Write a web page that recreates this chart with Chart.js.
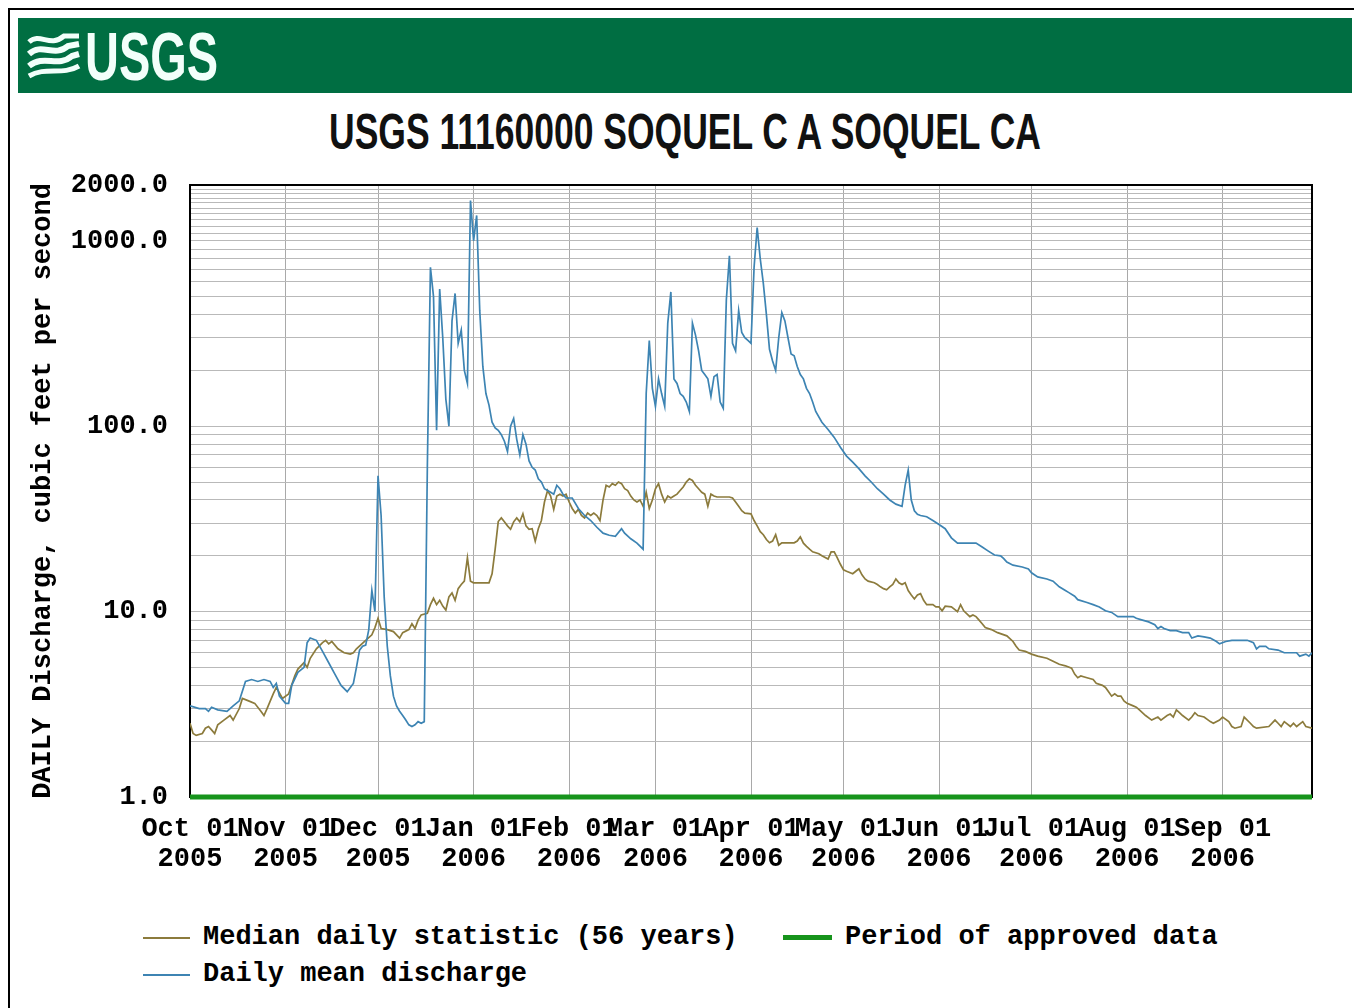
<!DOCTYPE html>
<html>
<head>
<meta charset="utf-8">
<script src="https://cdn.jsdelivr.net/npm/chart.js@4.4.1/dist/chart.umd.min.js"></script>
<style>
  html, body { margin: 0; padding: 0; background: #fff; }
  body { width: 1354px; height: 1008px; position: relative; overflow: hidden; }
  .frame { position: absolute; left: 8px; top: 8px; right: -4px; bottom: -4px; border-left: 2px solid #000; border-top: 2px solid #000; }
  .banner { position: absolute; left: 18px; top: 18px; width: 1334px; height: 75px; background: #006e42; }
  .banner svg, .title { position: absolute; left: 0; top: 0; }
  #chart { position: absolute; left: 0; top: 160px; }
  .legend { position: absolute; font: bold 27px "Liberation Mono", "DejaVu Sans Mono", monospace; color: #000; white-space: nowrap; }
  .legend .sw { position: absolute; left: -60px; top: 50%; width: 47px; }
</style>
</head>
<body>
<div class="frame"></div>
<div class="banner">
  <svg width="260" height="75" viewBox="0 0 260 75">
    <g fill="none" stroke="#f2fffa" stroke-linecap="butt">
      <path d="M11 24 C22 14, 32 30, 46 18 L61 18" stroke-width="5"/>
      <path d="M11 36 C24 24, 36 40, 50 28 L61 26" stroke-width="6"/>
      <path d="M11 48 C26 36, 40 50, 54 38 L61 36" stroke-width="6"/>
      <path d="M11 58 C28 48, 44 58, 61 48" stroke-width="5"/>
    </g>
    <text x="67" y="62" textLength="133" lengthAdjust="spacingAndGlyphs"
          font-family="Liberation Sans Narrow, Liberation Sans, Arial" font-weight="bold" font-size="68" fill="#f2fffa">USGS</text>
  </svg>
</div>
<svg class="title" width="1354" height="160">
  <text x="685" y="149" text-anchor="middle" textLength="712" lengthAdjust="spacingAndGlyphs"
        font-family="Liberation Sans Narrow, Liberation Sans, Arial" font-weight="bold" font-size="50" fill="#111">USGS 11160000 SOQUEL C A SOQUEL CA</text>
</svg>
<canvas id="chart" width="1354" height="720"></canvas>
<div class="legend" style="left:203px; top:922px;"><span class="sw" style="height:2px; background:#8c7b3c;"></span>Median daily statistic (56 years)</div>
<div class="legend" style="left:845px; top:922px;"><span class="sw" style="height:5px; margin-top:-2px; left:-62px; width:49px; background:#17941c;"></span>Period of approved data</div>
<div class="legend" style="left:203px; top:959px;"><span class="sw" style="height:2px; background:#3d84b3;"></span>Daily mean discharge</div>
<script>
// day 0 = 01 Oct 2005, day 364 = 30 Sep 2006
const monthDays = [0, 31, 61, 92, 123, 151, 182, 212, 243, 273, 304, 335];
const monthLabels = [
  ['Oct 01', '2005'], ['Nov 01', '2005'], ['Dec 01', '2005'], ['Jan 01', '2006'],
  ['Feb 01', '2006'], ['Mar 01', '2006'], ['Apr 01', '2006'], ['May 01', '2006'],
  ['Jun 01', '2006'], ['Jul 01', '2006'], ['Aug 01', '2006'], ['Sep 01', '2006']
];
const yTicks = [1, 2, 3, 4, 5, 6, 7, 8, 9, 10, 20, 30, 40, 50, 60, 70, 80, 90,
  100, 200, 300, 400, 500, 600, 700, 800, 900,
  1000, 1100, 1200, 1300, 1400, 1500, 1600, 1700, 1800, 1900, 2000];
const yLabelled = [1, 10, 100, 1000, 2000];

// median daily statistic (56 years), cfs
const medianDays = [0, 1, 2, 4, 5, 6, 7, 8, 9, 11, 13, 14, 16, 17, 19, 21, 23, 24, 25, 27, 28, 30, 32, 34, 35, 37, 38, 39, 41, 43, 44, 45, 46, 48, 50, 52, 53, 54, 57, 59,
  60, 61, 62, 64, 66, 68, 69, 71, 72, 73, 74, 75, 77, 78, 79, 80, 81, 82, 83, 84, 85, 86, 87, 88, 89, 90, 91, 92, 97, 98, 99,
  100, 101, 102, 103, 104, 105, 106, 107, 108, 109, 110, 111, 112, 113, 114, 115, 116, 117, 118, 119, 120, 121, 122, 123, 124, 125, 126, 127, 128, 129,
  130, 131, 132, 133, 134, 135, 136, 137, 138, 139, 140, 141, 142, 143, 144, 145, 146, 147, 148, 149, 150, 151, 152, 153, 154, 155, 156, 157, 158, 159,
  160, 161, 162, 163, 164, 165, 166, 167, 168, 169, 170, 171, 175, 176, 177, 178, 179, 180, 182, 183, 184, 185, 186, 187, 188, 189, 190, 191, 192, 196, 197, 198, 199,
  200, 201, 202, 204, 205, 207, 208, 209, 210, 211, 212, 213, 215, 216, 217, 218, 219, 220, 222, 223, 224, 225, 226, 227, 228, 229, 230, 231, 232, 233, 234, 235, 236, 237, 238, 239,
  241, 242, 243, 244, 245, 247, 249, 250, 251, 253, 254, 255, 256, 257, 258, 260, 262, 265, 267, 268, 269, 271, 273, 275, 278, 280, 282, 284, 286, 287, 288, 289, 291, 293, 294, 296, 297, 298, 299,
  300, 301, 302, 303, 304, 306, 307, 308, 310, 312, 314, 315, 317, 318, 319, 320, 321, 322, 324, 325, 326, 327, 329, 331, 332, 334, 335, 337, 338, 339,
  341, 342, 344, 345, 346, 350, 352, 353, 354, 355, 357, 358, 359, 361, 362, 364];
const medianFlow = [2.5, 2.2, 2.15, 2.2, 2.35, 2.4, 2.3, 2.2, 2.45, 2.6, 2.75, 2.6, 3.0, 3.4, 3.3, 3.2, 2.9, 2.75, 3.0, 3.6, 3.9, 3.4, 3.6, 4.5, 4.9, 5.3, 5.0, 5.6, 6.3, 6.8, 7.0, 6.7, 6.9, 6.3, 6.0, 5.9, 6.0, 6.3, 7.0, 7.5,
  8.2, 9.2, 8.1, 8.0, 7.8, 7.2, 7.7, 8.0, 8.6, 8.1, 9.0, 9.6, 9.8, 10.9, 11.8, 10.9, 11.5, 10.7, 10.2, 12.0, 12.6, 11.5, 13.3, 14.0, 14.6, 19.5, 14.6, 14.3, 14.3, 16, 21.7,
  30.6, 32, 30.5, 29, 27.8, 30.5, 32, 30.5, 33.7, 29, 27.8, 28, 24, 28, 31, 39, 45, 42, 35.6, 42, 43, 42, 43, 39, 36, 34, 35.6, 33, 32, 34,
  33, 34, 33, 31, 40, 48, 47, 49, 48, 50, 49, 46, 45, 42, 40, 39, 40, 37, 44, 36, 40, 46, 49, 43, 39, 42, 41, 42, 43, 45,
  47, 50, 52, 51, 48, 46, 44, 43, 37, 43, 42, 41.5, 41.5, 41, 39, 37, 35, 34, 33.7, 31, 29, 27, 26, 24.5, 23.5, 24, 26, 22.8, 23.5, 23.5, 24, 25.3, 23.4,
  22.5, 21.7, 21, 20.5, 20, 19.2, 21, 21, 19.5, 18, 16.8, 16.5, 16, 16.5, 17, 15.8, 15, 14.6, 14.3, 14, 13.6, 13.3, 13.1, 13.6, 14, 15, 14.3, 14, 14.3, 13, 12.3, 11.7, 12.3, 12.5, 11.5, 10.9,
  10.9, 10.6, 10.6, 10.1, 10.7, 10.6, 10.0, 10.9, 10.1, 9.4, 9.6, 9.4, 9.0, 8.6, 8.2, 8.0, 7.7, 7.4, 6.9, 6.5, 6.2, 6.1, 5.9, 5.75, 5.6, 5.4, 5.2, 5.1, 4.95, 4.6, 4.4, 4.5, 4.4, 4.3, 4.1, 4.0, 3.9, 3.7, 3.5,
  3.6, 3.5, 3.5, 3.3, 3.2, 3.1, 3.05, 2.95, 2.75, 2.6, 2.7, 2.6, 2.75, 2.8, 2.7, 2.95, 2.85, 2.75, 2.6, 2.7, 2.85, 2.75, 2.7, 2.55, 2.5, 2.6, 2.7, 2.55, 2.4, 2.35,
  2.4, 2.7, 2.5, 2.4, 2.35, 2.4, 2.6, 2.5, 2.4, 2.55, 2.4, 2.5, 2.4, 2.55, 2.4, 2.35];

// daily mean discharge, cfs
const meanDays = [0, 3, 5, 6, 7, 9, 12, 14, 16, 18, 20, 22, 24, 26, 27, 28, 29, 31, 32, 33, 35, 37, 38, 39, 41, 43, 45, 47, 49, 51, 53, 54, 55, 56, 57, 58, 59,
  60, 61, 62, 63, 64, 65, 66, 67, 68, 69, 70, 71, 72, 73, 74, 75, 76, 77, 78, 79, 80, 81, 82, 83, 84, 85, 86, 87, 88, 89,
  90, 91, 92, 93, 94, 95, 96, 97, 98, 99, 100, 101, 102, 103, 104, 105, 106, 107, 108, 109, 110, 111, 112, 113, 114, 115, 116, 117, 118, 119,
  120, 121, 122, 124, 126, 128, 130, 132, 134, 136, 138, 140, 141, 143, 145, 147, 148, 149, 150, 151, 152, 153, 154, 155, 156, 157, 158, 159,
  160, 161, 162, 163, 164, 165, 166, 167, 168, 169, 170, 171, 172, 173, 174, 175, 176, 177, 178, 179, 180, 181, 182, 183, 184, 185, 186, 187, 188, 189,
  190, 191, 192, 193, 194, 195, 196, 197, 198, 199, 200, 201, 202, 203, 205, 207, 209, 211, 213, 215, 217, 219, 221, 223, 225, 227, 229, 231, 232, 233, 234, 235, 236, 237, 239,
  241, 243, 245, 247, 249, 255, 257, 259, 261, 263, 264, 265, 267, 270, 272, 273, 275, 278, 280, 282, 284, 285, 287, 288, 291, 293, 295, 297, 299,
  301, 306, 307, 309, 311, 313, 314, 315, 316, 318, 320, 322, 324, 325, 327, 329, 331, 333, 334, 336, 338, 343, 345, 346, 347, 349, 350, 353, 355, 359, 360, 362, 363, 364];
const meanFlow = [3.1, 3.0, 3.0, 2.9, 3.05, 2.95, 2.9, 3.1, 3.3, 4.2, 4.3, 4.2, 4.3, 4.2, 3.9, 4.1, 3.5, 3.2, 3.2, 4.0, 4.7, 5.0, 6.8, 7.2, 7.0, 6.1, 5.3, 4.6, 4.0, 3.7, 4.1, 5.0, 6.2, 6.5, 6.6, 8.0, 13,
  10, 54, 33, 12, 6.5, 4.5, 3.5, 3.1, 2.9, 2.75, 2.6, 2.45, 2.4, 2.45, 2.55, 2.5, 2.55, 60, 720, 500, 95, 550, 300, 140, 100, 370, 520, 280, 330, 200,
  170, 1650, 1000, 1370, 420, 210, 150, 130, 105, 98, 95, 90, 83, 73, 100, 110, 85, 70, 90, 80, 65, 60, 58, 52, 50, 46, 45, 44, 43, 48,
  46, 43, 41, 41, 36, 33, 31, 28.5, 26.5, 25.8, 25.5, 28, 26.5, 24.7, 23.4, 21.7, 150, 290, 160, 128, 180, 150, 128, 360, 530, 180, 170, 150,
  145, 135, 120, 360, 310, 255, 200, 190, 180, 145, 185, 190, 135, 125, 480, 830, 280, 255, 420, 320, 300, 290, 280, 720, 1180, 800, 590, 400, 260, 225,
  200, 300, 410, 370, 300, 245, 240, 210, 190, 180, 160, 150, 135, 120, 105, 96, 87, 77, 69, 64, 59, 54, 50, 46, 43, 40, 38, 37, 48, 58, 40, 35, 33.5, 33, 32.5,
  31, 29.5, 28, 25, 23.4, 23.4, 22.3, 21.2, 20.2, 20, 19.3, 18.5, 17.8, 17.4, 17, 16.2, 15.4, 15, 14.6, 13.6, 13, 12.7, 12.1, 11.6, 11.2, 10.9, 10.6, 10.1, 9.9,
  9.4, 9.4, 9.2, 9.0, 8.8, 8.5, 8.1, 8.3, 8.1, 7.9, 7.9, 7.7, 7.7, 7.2, 7.4, 7.3, 7.2, 6.9, 6.7, 6.9, 7.0, 7.0, 6.8, 6.3, 6.5, 6.5, 6.3, 6.2, 6.0, 6.0, 5.75, 5.9, 5.75, 6.0];

// period of approved data (days), drawn along the bottom of the plot
const approvedDays = [0, 364];

const monoFont = { family: "'Liberation Mono', 'DejaVu Sans Mono', monospace", size: 27, weight: 'bold' };

const plotFrame = {
  id: 'plotFrame',
  beforeDatasetsDraw(chart) {
    const { ctx, chartArea: a } = chart;
    ctx.save();
    ctx.strokeStyle = '#000';
    ctx.lineWidth = 2;
    ctx.strokeRect(a.left, a.top, a.right - a.left, a.bottom - a.top);
    ctx.restore();
  }
};

new Chart(document.getElementById('chart'), {
  type: 'line',
  data: {
    datasets: [{
      label: 'Period of approved data',
      data: approvedDays.map(d => ({ x: d, y: yTicks[0] })),
      borderColor: '#17941c',
      borderWidth: 5,
      pointRadius: 0,
      clip: 4,
      order: 0
    }, {
      label: 'Daily mean discharge',
      data: meanDays.map((d, i) => ({ x: d, y: meanFlow[i] })),
      borderColor: '#3d84b3',
      borderWidth: 1.7,
      pointRadius: 0,
      tension: 0,
      order: 1
    }, {
      label: 'Median daily statistic (56 years)',
      data: medianDays.map((d, i) => ({ x: d, y: medianFlow[i] })),
      borderColor: '#8c7b3c',
      borderWidth: 1.7,
      pointRadius: 0,
      tension: 0,
      order: 2
    }]
  },
  options: {
    responsive: false,
    animation: false,
    devicePixelRatio: 1,
    layout: { padding: { top: 25, right: 42, left: 0, bottom: 0 } },
    plugins: { legend: { display: false }, tooltip: { enabled: false } },
    scales: {
      x: {
        type: 'linear',
        min: 0,
        max: 364,
        afterBuildTicks: (scale) => { scale.ticks = monthDays.map(v => ({ value: v })); },
        afterFit: (scale) => {
          scale.height = 83;
          scale.paddingLeft = 0;
          scale.paddingRight = 0;
        },
        grid: { color: '#a9a9a9', drawTicks: false },
        border: { display: false },
        ticks: {
          autoSkip: false,
          maxRotation: 0,
          padding: 17,
          color: '#000',
          font: { ...monoFont, lineHeight: 1.12 },
          callback: (value, index) => monthLabels[index]
        }
      },
      y: {
        type: 'logarithmic',
        min: 1,
        max: 2000,
        afterBuildTicks: (scale) => { scale.ticks = yTicks.map(v => ({ value: v })); },
        afterFit: (scale) => {
          scale.width = 190;
          scale.paddingTop = 0;
          scale.paddingBottom = 0;
        },
        grid: { color: '#b9b9b9', drawTicks: false },
        border: { display: false },
        ticks: {
          autoSkip: false,
          padding: 22,
          color: '#000',
          font: monoFont,
          callback: (value) => yLabelled.includes(value) ? value.toFixed(1) : ''
        },
        title: {
          display: true,
          text: 'DAILY Discharge, cubic feet per second',
          color: '#000',
          font: monoFont,
          padding: { top: 27, bottom: 0 }
        }
      }
    }
  },
  plugins: [plotFrame]
});
</script>
</body>
</html>
